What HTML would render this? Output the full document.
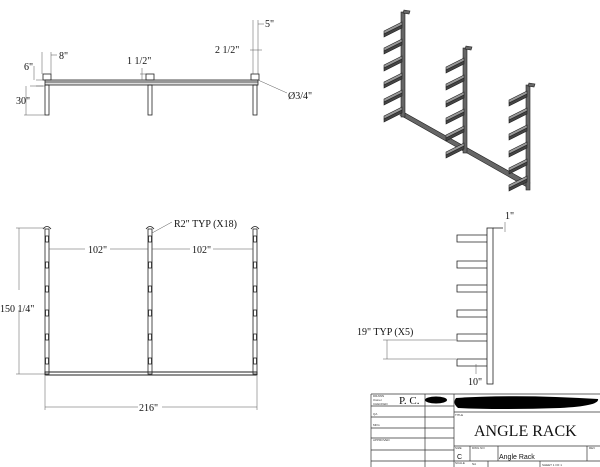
<!DOCTYPE html>
<html><head><meta charset="utf-8"><style>
html,body{margin:0;padding:0;background:#fff;width:600px;height:467px;overflow:hidden}
svg{display:block}
text{font-family:"Liberation Serif",serif;fill:#111}
.s{font-family:"Liberation Sans",sans-serif;font-size:3px;fill:#333}
</style></head><body>
<svg width="600" height="467" viewBox="0 0 600 467" xmlns="http://www.w3.org/2000/svg">
<g stroke="#222" fill="none" stroke-width="0.8">
<rect x="45" y="80" width="213" height="5" fill="#ddd"/>
<line x1="45" y1="82" x2="258" y2="82"/>
<rect x="45" y="85" width="4" height="30"/>
<rect x="148" y="85" width="4" height="30"/>
<rect x="253" y="85" width="4" height="30"/>
<rect x="43" y="74" width="8" height="6"/>
<rect x="146" y="74" width="8" height="6"/>
<rect x="251" y="74" width="8" height="6"/>
</g>
<g stroke="#555" fill="none" stroke-width="0.5">
<line x1="42" y1="52" x2="42" y2="74"/><line x1="51" y1="52" x2="51" y2="74"/>
<line x1="51" y1="55" x2="57" y2="55"/>
<line x1="36" y1="80" x2="43" y2="80"/><line x1="36" y1="86" x2="43" y2="86"/>
<line x1="34" y1="66" x2="34" y2="80"/><line x1="30" y1="86" x2="45" y2="86"/>
<line x1="26" y1="86" x2="26" y2="115"/><line x1="24" y1="115" x2="45" y2="115"/>
<line x1="140" y1="74" x2="146" y2="74"/><line x1="142" y1="68" x2="142" y2="80"/>
<line x1="253" y1="20" x2="253" y2="74"/><line x1="258" y1="20" x2="258" y2="74"/>
<line x1="258" y1="24" x2="264" y2="24"/>
<line x1="250" y1="50" x2="262" y2="50"/>
<line x1="258" y1="80" x2="287" y2="93"/>
</g>
<g font-size="10">
<text x="59" y="59">8"</text>
<text x="24" y="70">6"</text>
<text x="16" y="104">30"</text>
<text x="127" y="64">1 1/2"</text>
<text x="215" y="53">2 1/2"</text>
<text x="265" y="27">5"</text>
<text x="288" y="99">Ø3/4"</text>
</g>
<g stroke="#222" fill="#666" stroke-width="0.6">
<polygon points="400,115 405,113 530,183 527,187"/>
<rect x="401" y="12" width="4" height="105"/>
<rect x="463" y="48" width="4" height="105"/>
<rect x="526" y="85" width="4" height="105"/>
<polygon points="404,10 410,11 409,14 403,13"/>
<polygon points="466,46 472,47 471,50 465,49"/>
<polygon points="529,83 535,84 534,87 528,86"/>
</g>
<g stroke="#222" fill="#999" stroke-width="0.6">
<g id="a1">
<polygon points="384,31 402,22 402,25 384,34"/><polygon points="384,34 402,25 402,28 384,37" fill="#444"/>
</g>
<use href="#a1" y="17"/><use href="#a1" y="34"/><use href="#a1" y="51"/><use href="#a1" y="68"/><use href="#a1" y="85"/>
<use href="#a1" x="62" y="36"/><use href="#a1" x="62" y="53"/><use href="#a1" x="62" y="70"/><use href="#a1" x="62" y="87"/><use href="#a1" x="62" y="104"/><use href="#a1" x="62" y="121"/>
<use href="#a1" x="125" y="69"/><use href="#a1" x="125" y="86"/><use href="#a1" x="125" y="103"/><use href="#a1" x="125" y="120"/><use href="#a1" x="125" y="137"/><use href="#a1" x="125" y="154"/>
</g>
<g stroke="#222" fill="none" stroke-width="0.8">
<rect x="45" y="229" width="4" height="145"/>
<rect x="148" y="229" width="4" height="145"/>
<rect x="253" y="229" width="4" height="145"/>
<rect x="45" y="372" width="212" height="3" stroke-width="1"/>
<path d="M43,229 Q47,224 51,229 M146,229 Q150,224 154,229 M251,229 Q255,224 259,229"/>
<g id="b1"><rect x="45.5" y="236" width="3" height="6"/><rect x="45.5" y="262" width="3" height="6"/><rect x="45.5" y="286" width="3" height="6"/><rect x="45.5" y="310" width="3" height="6"/><rect x="45.5" y="334" width="3" height="6"/><rect x="45.5" y="358" width="3" height="6"/></g>
<use href="#b1" x="103"/><use href="#b1" x="208"/>
</g>
<g stroke="#555" fill="none" stroke-width="0.5">
<line x1="16" y1="228" x2="45" y2="228"/><line x1="16" y1="374" x2="45" y2="374"/>
<line x1="19" y1="228" x2="19" y2="290"/><line x1="19" y1="310" x2="19" y2="374"/>
<line x1="49" y1="249" x2="85" y2="249"/><line x1="110" y1="249" x2="148" y2="249"/>
<line x1="152" y1="249" x2="190" y2="249"/><line x1="213" y1="249" x2="253" y2="249"/>
<line x1="45" y1="376" x2="45" y2="410"/><line x1="257" y1="376" x2="257" y2="410"/>
<line x1="45" y1="407" x2="138" y2="407"/><line x1="162" y1="407" x2="257" y2="407"/>
<line x1="152" y1="233" x2="172" y2="222"/>
</g>
<g font-size="10">
<text x="0" y="312">150 1/4"</text>
<text x="88" y="253">102"</text>
<text x="192" y="253">102"</text>
<text x="139" y="411">216"</text>
<text x="174" y="227">R2" TYP (X18)</text>
</g>
<g stroke="#222" fill="none" stroke-width="0.8">
<rect x="487" y="228" width="6" height="156"/>
<line x1="493" y1="228" x2="503" y2="228"/>
<g id="c1"><path d="M487,235 H457 V242 H487"/></g>
<use href="#c1" y="26"/><use href="#c1" y="50"/><use href="#c1" y="75"/><use href="#c1" y="99"/><use href="#c1" y="124"/>
</g>
<g stroke="#555" fill="none" stroke-width="0.5">
<line x1="383" y1="340" x2="456" y2="340"/><line x1="383" y1="359" x2="456" y2="359"/>
<line x1="387" y1="340" x2="387" y2="359"/>
<line x1="476" y1="364" x2="476" y2="374"/><line x1="505" y1="222" x2="505" y2="232"/>
</g>
<g font-size="10">
<text x="357" y="335">19" TYP (X5)</text>
<text x="505" y="219">1"</text>
<text x="468" y="385">10"</text>
</g>
<g stroke="#333" fill="none" stroke-width="0.7">
<line x1="371" y1="394" x2="600" y2="394"/>
<line x1="371" y1="394" x2="371" y2="467"/>
<line x1="425" y1="394" x2="425" y2="467"/>
<line x1="454" y1="394" x2="454" y2="467"/>
<line x1="371" y1="406" x2="454" y2="406"/>
<line x1="371" y1="417" x2="454" y2="417"/>
<line x1="371" y1="428" x2="454" y2="428"/>
<line x1="371" y1="438" x2="454" y2="438"/>
<line x1="371" y1="450" x2="454" y2="450"/>
<line x1="371" y1="461" x2="600" y2="461"/>
<line x1="454" y1="412" x2="600" y2="412"/>
<line x1="454" y1="446" x2="600" y2="446"/>
<line x1="470" y1="446" x2="470" y2="461"/>
<line x1="498" y1="446" x2="498" y2="461"/>
<line x1="587" y1="446" x2="587" y2="461"/>
<line x1="488" y1="461" x2="488" y2="467"/>
<line x1="540" y1="461" x2="540" y2="467"/>
</g>
<ellipse cx="436" cy="400" rx="11" ry="3.5" fill="#000"/>
<path d="M456,398 Q520,394 598,399 Q600,406 560,408 Q500,410 458,408 Q452,403 456,398Z" fill="#000"/>
<text class="s" x="373" y="397">DRAWN</text>
<text class="s" x="373" y="401" font-size="4">Owner</text>
<text class="s" x="373" y="405">CHECKED</text>
<text class="s" x="373" y="415">QA</text>
<text class="s" x="373" y="426">MFG</text>
<text class="s" x="373" y="441">APPROVED</text>
<text class="s" x="455" y="416">TITLE</text>
<text class="s" x="455" y="449">SIZE</text>
<text class="s" x="472" y="449">DWG NO</text>
<text class="s" x="589" y="449">REV</text>
<text class="s" x="455" y="464">SCALE</text>
<text class="s" x="472" y="465" font-size="4">NA</text>
<text class="s" x="542" y="466">SHEET 1 OF 1</text>
<text x="399" y="404" font-size="11">P. C.</text>
<text x="474" y="436" font-size="16">ANGLE RACK</text>
<text x="457" y="459" font-size="7" style="font-family:'Liberation Sans',sans-serif">C</text>
<text x="499" y="459" font-size="7" style="font-family:'Liberation Sans',sans-serif">Angle Rack</text>
</svg>
</body></html>
